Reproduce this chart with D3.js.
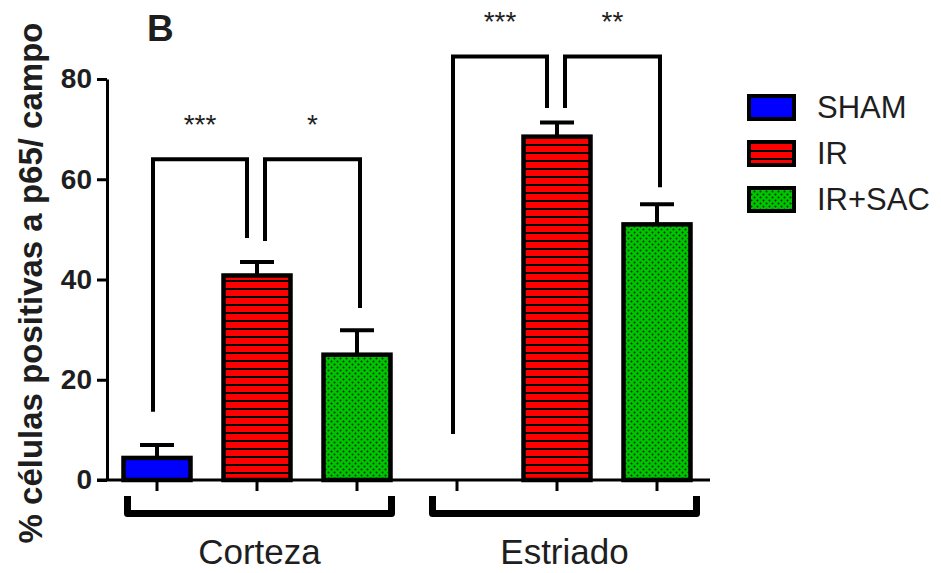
<!DOCTYPE html>
<html>
<head>
<meta charset="utf-8">
<script src="https://cdn.jsdelivr.net/npm/d3@7"></script>
<style>
  body { margin: 0; background: #fff; }
  text { font-family: "Liberation Sans", Arial, sans-serif; fill: #1e1e1e; }
</style>
</head>
<body>
<svg id="chart" width="941" height="573"></svg>
<script>
// data
const groups = ['Corteza', 'Estriado'];
const treatments = ['SHAM', 'IR', 'IR+SAC'];
const means = [[4.4, 40.8, 25.0], [null, 68.5, 51.0]];
const errors = [[2.6, 2.7, 4.9], [null, 2.8, 4.0]];
const yTicks = [0, 20, 40, 60, 80];
// significance brackets: group, bar a, bar b, top value, leg ends, stars
const sigGroup = [0, 0, 1, 1];
const sigA = [0, 1, 0, 1];
const sigB = [1, 2, 1, 2];
const sigTop = [64, 64, 84.5, 84.5];
const sigEndA = [13.6, 47.7, 9.2, 74.2];
const sigEndB = [48.3, 34.3, 74.2, 58.4];
const sigLabel = ['***', '*', '***', '**'];

const fills = { 'SHAM': '#0000ff', 'IR': 'url(#hlines)', 'IR+SAC': 'url(#dots)' };

const svg = d3.select('#chart');
const MARGIN = { left: 107, right: 234, top: 79, bottom: 93 };

const keys = [];
groups.forEach(g => treatments.forEach(t => keys.push(g + '|' + t)));

const x = d3.scalePoint()
    .domain(keys)
    .range([MARGIN.left, 707])
    .padding(0.5);
const y = d3.scaleLinear()
    .domain([0, 80])
    .range([480, MARGIN.top]);

const barW = x.step() * 0.67;

// patterns
const defs = svg.append('defs');
const hl = defs.append('pattern').attr('id', 'hlines')
    .attr('patternUnits', 'userSpaceOnUse').attr('width', 8).attr('height', 8);
hl.append('rect').attr('width', 8).attr('height', 8).attr('fill', '#ff0000');
hl.append('rect').attr('width', 8).attr('height', 2).attr('fill', '#000');

const dt = defs.append('pattern').attr('id', 'dots')
    .attr('patternUnits', 'userSpaceOnUse').attr('width', 6).attr('height', 6);
dt.append('rect').attr('width', 6).attr('height', 6).attr('fill', '#00c400');
dt.append('circle').attr('cx', 1.5).attr('cy', 1.5).attr('r', 1).attr('fill', '#053005');
dt.append('circle').attr('cx', 4.5).attr('cy', 4.5).attr('r', 1).attr('fill', '#053005');

// flat data
const rows = [];
groups.forEach((g, gi) => treatments.forEach((t, ti) => {
    rows.push({ key: g + '|' + t, t: t, v: means[gi][ti], e: errors[gi][ti] });
}));
const shown = rows.filter(d => d.v !== null);

// y axis
svg.append('g')
    .attr('transform', `translate(${MARGIN.left},0)`)
    .call(d3.axisLeft(y).tickValues(yTicks).tickSize(10).tickSizeOuter(0).tickPadding(5))
    .call(g => g.select('.domain').attr('stroke', '#000').attr('stroke-width', 3))
    .call(g => g.selectAll('.tick line').attr('stroke', '#000').attr('stroke-width', 3))
    .call(g => g.selectAll('.tick text')
        .attr('font-size', '28px').attr('font-weight', 'bold')
        .attr('font-family', '"Liberation Sans", Arial, sans-serif').attr('fill', '#1e1e1e'));

// error bars (drawn under bars)
const eb = svg.append('g');
eb.selectAll('line.stem').data(shown).join('line')
    .attr('x1', d => x(d.key)).attr('x2', d => x(d.key))
    .attr('y1', d => y(d.v)).attr('y2', d => y(d.v + d.e))
    .attr('stroke', '#000').attr('stroke-width', 4);
eb.selectAll('line.cap').data(shown).join('line')
    .attr('x1', d => x(d.key) - 17).attr('x2', d => x(d.key) + 17)
    .attr('y1', d => y(d.v + d.e)).attr('y2', d => y(d.v + d.e))
    .attr('stroke', '#000').attr('stroke-width', 4);

// bars
svg.append('g').selectAll('rect').data(shown).join('rect')
    .attr('x', d => x(d.key) - barW / 2)
    .attr('width', barW)
    .attr('y', d => y(d.v))
    .attr('height', d => y(0) - y(d.v))
    .attr('fill', d => fills[d.t])
    .attr('stroke', '#000').attr('stroke-width', 4.5);

// x axis
const xa = svg.append('g').attr('transform', `translate(0,${y(0)})`);
xa.append('line').attr('x1', 97).attr('x2', 710)
    .attr('stroke', '#000').attr('stroke-width', 3);
xa.selectAll('line.tk').data(keys).join('line')
    .attr('x1', d => x(d)).attr('x2', d => x(d))
    .attr('y1', 0).attr('y2', 11)
    .attr('stroke', '#000').attr('stroke-width', 3);

// group brackets below axis
groups.forEach((g, gi) => {
    const off = gi === 1 ? 5 : 0;
    const x0 = x(g + '|' + treatments[0]) - barW / 2 + 4 + off;
    const x1 = x(g + '|' + treatments[treatments.length - 1]) + barW / 2 + 1 + off;
    svg.append('path')
        .attr('d', `M${x0},${y(0) + 16}V${y(0) + 33.5}H${x1}V${y(0) + 16}`)
        .attr('fill', 'none').attr('stroke', '#000')
        .attr('stroke-width', 7).attr('stroke-linejoin', 'round');
    svg.append('text')
        .attr('x', (x0 + x1) / 2).attr('y', 564)
        .attr('text-anchor', 'middle')
        .attr('font-size', '35px')
        .text(g);
});

// significance brackets
const sig = svg.append('g');
sigLabel.forEach((lab, i) => {
    const g = groups[sigGroup[i]];
    const first = sigA[i] === 0 && sigB[i] === 1;
    const xa0 = x(g + '|' + treatments[sigA[i]]) + (first ? -4 : 8);
    const xb0 = x(g + '|' + treatments[sigB[i]]) + (first ? -10 : 3);
    sig.append('path')
        .attr('d', `M${xa0},${y(sigEndA[i])}V${y(sigTop[i])}H${xb0}V${y(sigEndB[i])}`)
        .attr('fill', 'none').attr('stroke', '#000')
        .attr('stroke-width', 4).attr('stroke-linejoin', 'miter');
    sig.append('text')
        .attr('x', (xa0 + xb0) / 2)
        .attr('y', y(sigTop[i]) - 25)
        .attr('text-anchor', 'middle')
        .attr('font-size', '28px')
        .attr('fill', '#333')
        .text(lab);
});

// y axis title
svg.append('text')
    .attr('transform', 'translate(42,283) rotate(-90)')
    .attr('text-anchor', 'middle')
    .attr('font-size', '33px')
    .attr('font-weight', 'bold')
    .text('% células positivas a p65/ campo');

// panel letter
svg.append('text')
    .attr('x', 147).attr('y', 41)
    .attr('font-size', '37px').attr('font-weight', 'bold')
    .attr('fill', '#111')
    .text('B');

// legend
const lg = svg.append('g').attr('transform', 'translate(747,94)');
treatments.forEach((t, i) => {
    lg.append('rect')
        .attr('x', 2).attr('y', i * 46 + 2)
        .attr('width', 45).attr('height', 23)
        .attr('fill', fills[t])
        .attr('stroke', '#000').attr('stroke-width', 4);
    lg.append('text')
        .attr('x', 70).attr('y', i * 46 + 13.5)
        .attr('dy', '0.35em')
        .attr('font-size', '31px')
        .text(t);
});
</script>
</body>
</html>
